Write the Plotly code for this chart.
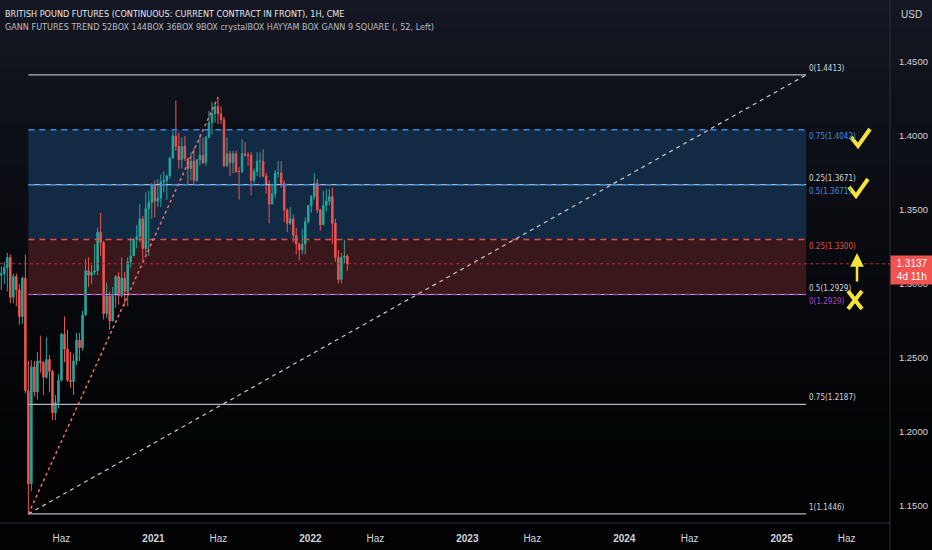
import pandas as pd
import plotly.graph_objects as go

# weekly bars, British pound futures
dates = pd.date_range("2020-01-06", periods=117, freq="7D")

opens = [
    # 2020
    1.3100, 1.3060, 1.3070, 1.3110, 1.3180, 1.2910, 1.3050, 1.2960, 1.2780, 1.3040,
    1.2280, 1.1650, 1.2440, 1.2270, 1.2480, 1.2470, 1.2370, 1.2490, 1.2410, 1.2130,
    1.2200, 1.2350, 1.2660, 1.2560, 1.2350, 1.2340, 1.2480, 1.2620, 1.2570, 1.2790,
    1.3090, 1.3060, 1.3080, 1.3090, 1.3350, 1.3280, 1.2800, 1.2920, 1.2750, 1.2930,
    1.3050, 1.2920, 1.3040, 1.2950, 1.3150, 1.3190, 1.3300, 1.3320, 1.3440, 1.3240,
    1.3510, 1.3550,
    # 2021
    1.3670, 1.3560, 1.3580, 1.3690, 1.3700, 1.3730, 1.3850, 1.4000, 1.3930, 1.3840,
    1.3930, 1.3850, 1.3780, 1.3830, 1.3700, 1.3840, 1.3870, 1.3820, 1.3990, 1.4090,
    1.4150, 1.4200, 1.4150, 1.4110, 1.3800, 1.3880, 1.3820, 1.3880, 1.3760, 1.3760,
    1.3880, 1.3870, 1.3870, 1.3700, 1.3760, 1.3830, 1.3830, 1.3730, 1.3670, 1.3540,
    1.3610, 1.3750, 1.3750, 1.3680, 1.3500, 1.3410, 1.3440, 1.3330, 1.3270, 1.3230,
    1.3270, 1.3420,
    # 2022
    1.3530, 1.3590, 1.3680, 1.3500, 1.3400, 1.3530, 1.3560, 1.3590, 1.3410, 1.3180,
    1.3030, 1.3180, 1.3190,
]
highs = [
    1.3200, 1.3120, 1.3150, 1.3210, 1.3200, 1.3070, 1.3070, 1.3000, 1.3050, 1.3200,
    1.2480, 1.2485, 1.2480, 1.2540, 1.2650, 1.2480, 1.2640, 1.2520, 1.2420, 1.2250,
    1.2390, 1.2670, 1.2780, 1.2690, 1.2540, 1.2530, 1.2670, 1.2670, 1.2820, 1.3170,
    1.3180, 1.3130, 1.3270, 1.3380, 1.3480, 1.3290, 1.3010, 1.2950, 1.2980, 1.3060,
    1.3080, 1.3180, 1.3080, 1.3180, 1.3310, 1.3310, 1.3400, 1.3540, 1.3460, 1.3620,
    1.3630, 1.3680,
    1.3700, 1.3710, 1.3740, 1.3760, 1.3740, 1.3860, 1.4030, 1.4240, 1.4020, 1.3990,
    1.4000, 1.3850, 1.3890, 1.3920, 1.3840, 1.4010, 1.3990, 1.4000, 1.4170, 1.4230,
    1.4220, 1.4262, 1.4200, 1.4130, 1.3990, 1.3900, 1.3900, 1.3900, 1.3790, 1.3980,
    1.3960, 1.3890, 1.3890, 1.3780, 1.3890, 1.3890, 1.3910, 1.3750, 1.3700, 1.3670,
    1.3770, 1.3830, 1.3830, 1.3700, 1.3510, 1.3520, 1.3470, 1.3380, 1.3280, 1.3370,
    1.3450, 1.3530,
    1.3600, 1.3750, 1.3710, 1.3510, 1.3630, 1.3640, 1.3640, 1.3650, 1.3440, 1.3230,
    1.3210, 1.3300, 1.3200,
]
lows = [
    1.2950, 1.2960, 1.3000, 1.2950, 1.2870, 1.2870, 1.2850, 1.2725, 1.2730, 1.2260,
    1.1446, 1.1600, 1.2240, 1.2220, 1.2400, 1.2250, 1.2360, 1.2270, 1.2080, 1.2080,
    1.2160, 1.2340, 1.2470, 1.2340, 1.2300, 1.2250, 1.2450, 1.2480, 1.2550, 1.2790,
    1.2980, 1.3000, 1.3060, 1.3060, 1.3190, 1.2760, 1.2770, 1.2690, 1.2750, 1.2840,
    1.2860, 1.2910, 1.2850, 1.2850, 1.3110, 1.3190, 1.3240, 1.3280, 1.3160, 1.3200,
    1.3190, 1.3440,
    1.3450, 1.3520, 1.3520, 1.3620, 1.3570, 1.3710, 1.3850, 1.3900, 1.3780, 1.3780,
    1.3830, 1.3670, 1.3700, 1.3670, 1.3690, 1.3800, 1.3810, 1.3800, 1.3990, 1.4010,
    1.4090, 1.4080, 1.4080, 1.3790, 1.3790, 1.3730, 1.3750, 1.3750, 1.3570, 1.3750,
    1.3860, 1.3800, 1.3600, 1.3680, 1.3730, 1.3720, 1.3720, 1.3610, 1.3410, 1.3540,
    1.3580, 1.3720, 1.3650, 1.3420, 1.3350, 1.3400, 1.3280, 1.3200, 1.3160, 1.3200,
    1.3200, 1.3410,
    1.3480, 1.3570, 1.3480, 1.3360, 1.3400, 1.3490, 1.3530, 1.3270, 1.3150, 1.3005,
    1.3005, 1.3140, 1.3090,
]
closes = [
    1.3060, 1.3070, 1.3110, 1.3180, 1.2910, 1.3050, 1.2960, 1.2780, 1.3040, 1.2280,
    1.1650, 1.2440, 1.2270, 1.2480, 1.2470, 1.2370, 1.2490, 1.2410, 1.2130, 1.2200,
    1.2350, 1.2660, 1.2560, 1.2350, 1.2340, 1.2480, 1.2620, 1.2570, 1.2790, 1.3090,
    1.3060, 1.3080, 1.3090, 1.3350, 1.3280, 1.2800, 1.2920, 1.2750, 1.2930, 1.3050,
    1.2920, 1.3040, 1.2950, 1.3150, 1.3190, 1.3300, 1.3320, 1.3440, 1.3240, 1.3510,
    1.3550, 1.3670,
    1.3560, 1.3580, 1.3690, 1.3700, 1.3730, 1.3850, 1.4000, 1.3930, 1.3840, 1.3930,
    1.3850, 1.3780, 1.3830, 1.3700, 1.3840, 1.3870, 1.3820, 1.3990, 1.4090, 1.4150,
    1.4200, 1.4150, 1.4110, 1.3800, 1.3880, 1.3820, 1.3880, 1.3760, 1.3760, 1.3880,
    1.3870, 1.3870, 1.3700, 1.3760, 1.3830, 1.3830, 1.3730, 1.3670, 1.3540, 1.3610,
    1.3750, 1.3750, 1.3680, 1.3500, 1.3410, 1.3440, 1.3330, 1.3270, 1.3230, 1.3270,
    1.3420, 1.3530,
    1.3590, 1.3680, 1.3500, 1.3400, 1.3530, 1.3560, 1.3590, 1.3410, 1.3180, 1.3030,
    1.3180, 1.3190, 1.3137,
]

# gann box levels: (label fraction, price, group)
levels = [
    ("0", 1.4413, "white"),
    ("0.75", 1.4042, "blue"),
    ("0.25", 1.3671, "white"),
    ("0.5", 1.3671, "blue"),
    ("0.25", 1.3300, "red"),
    ("0.5", 1.2929, "white"),
    ("0", 1.2929, "purple"),
    ("0.75", 1.2187, "white"),
    ("1", 1.1446, "white"),
]
box_start = "2020-03-16"
box_end = "2025-02-27"
peak_date = "2021-05-31"
countdown = "4d 11h"

x_ticks = ["2020-06-01", "2021-01-01", "2021-06-01", "2022-01-01", "2022-06-01",
           "2023-01-01", "2023-06-01", "2024-01-01", "2024-06-01", "2025-01-01",
           "2025-06-01"]
x_labels = ["Haz", "<b>2021</b>", "Haz", "<b>2022</b>", "Haz", "<b>2023</b>", "Haz",
            "<b>2024</b>", "Haz", "<b>2025</b>", "Haz"]
y_ticks = [1.15, 1.20, 1.25, 1.30, 1.35, 1.40, 1.45]

title1 = "BRITISH POUND FUTURES (CONTINUOUS: CURRENT CONTRACT IN FRONT), 1H, CME"
title2 = "GANN FUTURES TREND 52BOX 144BOX 36BOX 9BOX crystalBOX HAYYAM BOX GANN 9 SQUARE (, 52, Left)"

UP = "#26a69a"
DOWN = "#ef5350"
style = {
    "white": dict(color="#b2b5be", dash="solid", text="#d1d4dc"),
    "blue": dict(color="#2f8ae8", dash="6px,5px", text="#3d8ee0"),
    "red": dict(color="#e0504a", dash="6px,5px", text="#e0504a"),
    "purple": dict(color="#a23fc6", dash="5px,4px", text="#a34ac8"),
}
NARROW = "Liberation Sans Narrow, DejaVu Sans Condensed, Liberation Sans"

W, H = 932, 550
ML, MR, MT, MB = 0, 42, 0, 27
PW, PH = W - ML - MR, H - MT - MB

fig = go.Figure()
fig.add_trace(go.Candlestick(
    x=dates, open=opens, high=highs, low=lows, close=closes,
    increasing=dict(line=dict(color=UP, width=1), fillcolor=UP),
    decreasing=dict(line=dict(color=DOWN, width=1), fillcolor=DOWN),
    whiskerwidth=0, hoverinfo="skip", showlegend=False,
))

shapes = []
# background gradient (dark navy to black)
n = 40
y_bot = -MB / PH
for i in range(n):
    t = i / (n - 1)
    k = (1 - t) ** 1.4
    c = "rgb(%d,%d,%d)" % (2 + 18 * k, 2 + 21 * k, 3 + 31 * k)
    y1 = 1 - (1 - y_bot) * i / n
    y0 = 1 - (1 - y_bot) * (i + 1) / n
    shapes.append(dict(type="rect", xref="paper", yref="paper", x0=0, x1=W / PW,
                       y0=y0 - 0.002, y1=y1, fillcolor=c, line=dict(width=0), layer="below"))

prices = {g: [p for _, p, gg in levels if gg == g] for g in style}
blue_top = max(prices["blue"])
red_top = prices["red"][0]
purple_bot = prices["purple"][0]
low = min(lows)
high_box = max(p for _, p, _ in levels)
peak = max(highs)
last = closes[-1]

shapes.append(dict(type="rect", xref="x", yref="y", x0=box_start, x1=box_end,
                   y0=red_top, y1=blue_top, fillcolor="#132a45", line=dict(width=0), layer="below"))
shapes.append(dict(type="rect", xref="x", yref="y", x0=box_start, x1=box_end,
                   y0=purple_bot, y1=red_top, fillcolor="#3a171a", line=dict(width=0), layer="below"))

for frac, p, g in levels:
    s = style[g]
    w = 1.2 if g == "white" else 1.5
    shapes.append(dict(type="line", xref="x", yref="y", x0=box_start, x1=box_end, y0=p, y1=p,
                       line=dict(color=s["color"], width=w, dash=s["dash"]), layer="above"))

# diagonals
shapes.append(dict(type="line", xref="x", yref="y", x0=box_start, y0=low, x1=box_end, y1=high_box,
                   line=dict(color="#c8cad0", width=1.2, dash="4px,4px")))
shapes.append(dict(type="line", xref="x", yref="y", x0=box_start, y0=low, x1=peak_date, y1=peak,
                   line=dict(color="#e8707a", width=1.5, dash="dot")))

# last price line
shapes.append(dict(type="line", xref="paper", yref="y", x0=0, x1=1, y0=last, y1=last,
                   line=dict(color="#a8333c", width=1, dash="dot")))

# pane separators
shapes.append(dict(type="line", xref="paper", yref="paper", x0=1, x1=1, y0=y_bot, y1=1,
                   line=dict(color="#2a2e39", width=1)))
shapes.append(dict(type="line", xref="paper", yref="paper", x0=0, x1=1, y0=0, y1=0,
                   line=dict(color="#2a2e39", width=1)))

# yellow hand-drawn marks (ticks and cross), drawn in pixel units
YEL = "#f5e23a"
def mark(px, py, path):
    return dict(type="path", xref="paper", yref="paper", xsizemode="pixel", ysizemode="pixel",
                xanchor=px / PW, yanchor=1 - py / PH, path=path,
                line=dict(color=YEL, width=4), layer="above")

tick_path = "M -8,1 L -1,-8 L 11,9"
shapes.append(mark(859, 138, tick_path))
shapes.append(mark(857, 188, tick_path))
shapes.append(mark(855, 300, "M -7,-9 L 7,9 M -7,9 L 7,-9"))

ann = []
for frac, p, g in levels:
    s = style[g]
    ann.append(dict(x=box_end, y=p, xref="x", yref="y", text="%s(%.4f)" % (frac, p),
                    showarrow=False, xanchor="left", xshift=1,
                    yanchor="bottom" if g == "white" else "top",
                    font=dict(family=NARROW, size=8, color=s["text"])))

ann.append(dict(x=0, y=1, xref="paper", yref="paper", text=title1, showarrow=False,
                xanchor="left", yanchor="top", xshift=3, yshift=-7,
                font=dict(family=NARROW, size=9, color="#e6e8ee")))
ann.append(dict(x=0, y=1, xref="paper", yref="paper", text=title2, showarrow=False,
                xanchor="left", yanchor="top", xshift=3, yshift=-20,
                font=dict(family=NARROW, size=9, color="#b8bbc4")))
ann.append(dict(x=(W - 20) / PW, y=1, xref="paper", yref="paper", text="USD", showarrow=False,
                xanchor="center", yanchor="top", yshift=-7,
                font=dict(family="Liberation Sans", size=10, color="#d1d4dc")))
ann.append(dict(x=1, y=last, xref="paper", yref="y", text="%.4f<br>%s" % (last, countdown),
                showarrow=False, xanchor="left", yanchor="middle", yshift=-6,
                width=40, height=26, bgcolor="#f05350", borderpad=1,
                font=dict(family="Liberation Sans", size=10, color="#ffffff")))
ann.append(dict(x=857 / PW, y=1 - 253 / PH, xref="paper", yref="paper", text="",
                showarrow=True, ax=0, ay=30, arrowhead=2, arrowsize=1.1, arrowwidth=2.5,
                arrowcolor=YEL))

fig.update_layout(
    width=W, height=H,
    margin=dict(l=ML, r=MR, t=MT, b=MB),
    paper_bgcolor="#000000", plot_bgcolor="rgba(0,0,0,0)",
    shapes=shapes, annotations=ann, showlegend=False,
    xaxis=dict(type="date", range=["2020-01-10", "2025-09-10"], rangeslider=dict(visible=False),
               showgrid=False, zeroline=False, showline=False,
               tickvals=x_ticks, ticktext=x_labels, ticks="outside", ticklen=6,
               tickcolor="rgba(0,0,0,0)",
               tickfont=dict(family="Liberation Sans", size=10, color="#d1d4dc")),
    yaxis=dict(side="right", range=[1.1385, 1.4919], showgrid=False, zeroline=False,
               showline=False, tickvals=y_ticks, ticktext=["%.4f" % v for v in y_ticks],
               ticks="outside", ticklen=6, tickcolor="rgba(0,0,0,0)",
               tickfont=dict(family="Liberation Sans", size=9.5, color="#d1d4dc")),
)

# drop the default page margin so the figure sits at the window corner
fig.write_html("out.html", config={"displayModeBar": False},
               post_script="document.body.style.margin='0';")
